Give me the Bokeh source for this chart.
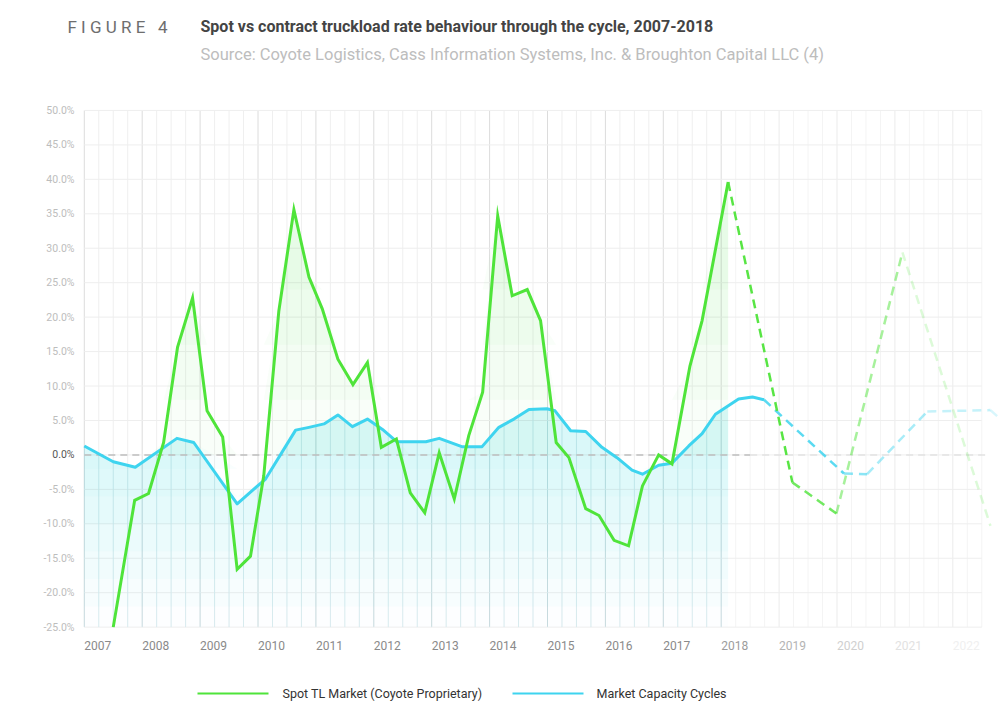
import numpy as np
from bokeh.plotting import figure
from bokeh.models import Range1d
from bokeh.core.properties import value
from bokeh.embed import file_html
from bokeh.resources import INLINE

# ---------------- data ----------------
spot_t = [2007.50, 2007.87, 2008.11, 2008.37, 2008.61, 2008.87, 2009.12, 2009.39, 2009.64, 2009.87,
          2010.10, 2010.36, 2010.62, 2010.88, 2011.11, 2011.38, 2011.64, 2011.89, 2012.13, 2012.39,
          2012.63, 2012.88, 2013.13, 2013.39, 2013.64, 2013.88, 2014.14, 2014.39, 2014.65, 2014.88,
          2015.15, 2015.37, 2015.66, 2015.89, 2016.15, 2016.40, 2016.64, 2016.92, 2017.15, 2017.46,
          2017.67, 2018.12]
spot_v = [-25.0, -6.6, -5.6, 1.8, 15.6, 22.8, 6.4, 2.6, -16.6, -14.7,
          -3.0, 20.9, 35.6, 25.8, 21.2, 13.9, 10.2, 13.4, 1.1, 2.3,
          -5.5, -8.4, 0.3, -6.4, 2.8, 9.1, 34.7, 23.1, 24.0, 19.5,
          1.8, -0.4, -7.8, -8.8, -12.4, -13.2, -4.5, 0.0, -1.3, 12.9,
          19.5, 39.6]

spot_proj_t = [2018.12, 2019.23, 2019.99, 2021.13, 2022.65]
spot_proj_v = [39.6, -4.0, -8.5, 29.4, -10.3]

cap_t = [2007.00, 2007.50, 2007.88, 2008.60, 2008.89, 2009.64, 2010.13, 2010.65, 2010.88, 2011.14,
         2011.38, 2011.63, 2011.89, 2012.15, 2012.40, 2012.90, 2013.13, 2013.52, 2013.87, 2014.16,
         2014.42, 2014.68, 2014.99, 2015.13, 2015.40, 2015.66, 2015.94, 2016.20, 2016.46, 2016.64,
         2016.92, 2017.15, 2017.44, 2017.67, 2017.90, 2018.30, 2018.54, 2018.74]
cap_v = [1.3, -1.0, -1.8, 2.4, 1.8, -7.1, -3.5, 3.6, 4.0, 4.5,
         5.8, 4.1, 5.2, 3.7, 1.9, 1.9, 2.4, 1.2, 1.2, 4.0,
         5.2, 6.6, 6.7, 6.4, 3.5, 3.4, 1.1, -0.4, -2.2, -2.8,
         -1.5, -1.2, 1.3, 3.1, 5.9, 8.1, 8.4, 8.0]

cap_proj_t = [2018.74, 2020.12, 2020.52, 2021.56, 2022.65, 2022.85]
cap_proj_v = [8.0, -2.7, -2.8, 6.3, 6.5, 5.0]

y_ticks = [50, 45, 40, 35, 30, 25, 20, 15, 10, 5, 0, -5, -10, -15, -20, -25]
y_tick_labels = ["%.1f%%" % v for v in y_ticks]
years = list(range(2007, 2023))
year_labels = [str(y) for y in years]
year_label_colors = ["#8a8a8a"] * 11 + ["#9c9c9c", "#b4b4b4", "#cfcfcf", "#e2e2e2", "#f0f0f0"]

series_names = ["Spot TL Market (Coyote Proprietary)", "Market Capacity Cycles"]
NB = "\u00a0"
title_label = NB.join(list("FIGURE")) + NB * 3 + "4"
title_text = "Spot vs contract truckload rate behaviour through the cycle, 2007-2018"
subtitle_text = "Source: Coyote Logistics, Cass Information Systems, Inc. & Broughton Capital LLC (4)"

GREEN = "#4fe43a"
BLUE = "#3ed4ef"
FILL_END = 2018.12
GRID_END = 2022.5

# ---------------- layout mapping (page px -> data) ----------------
W, H = 1000, 718
OFF = 0
X0_PX, PX_PER_YEAR = 83.8, 57.9
Y0_PX, PX_PER_PCT = 454.4, 6.889
x_start = 2007 - (X0_PX - OFF) / PX_PER_YEAR
x_end = x_start + W / PX_PER_YEAR
y_top = (Y0_PX - OFF) / PX_PER_PCT
y_bottom = y_top - H / PX_PER_PCT


def px_x(px):
    return 2007 + (px - X0_PX) / PX_PER_YEAR


def px_y(py):
    return (Y0_PX - py) / PX_PER_PCT


p = figure(width=W, height=H, output_backend="svg", toolbar_location=None,
           x_range=Range1d(x_start, x_end), y_range=Range1d(y_bottom, y_top),
           x_axis_location=None, y_axis_location=None, min_border=0,
           outline_line_color=None, background_fill_color="white",
           border_fill_color="white")
p.xgrid.visible = False
p.ygrid.visible = False

FONT = value("Roboto")

# ---------------- grid ----------------
qx = np.arange(2007, GRID_END + 0.001, 0.25)
is_year = np.isclose(qx % 1, 0)
past = qx <= 2018.01
qcol = np.where(is_year, np.where(past, "#dcdcdc", "#ebebeb"),
                np.where(past, "#efefef", "#f4f4f4"))
p.segment(x0=qx, y0=[-25] * len(qx), x1=qx, y1=[50] * len(qx),
          line_color=list(qcol), line_width=1)
p.segment(x0=[2007] * len(y_ticks), y0=y_ticks, x1=[GRID_END] * len(y_ticks), y1=y_ticks,
          line_color="#eeeeee", line_width=1)

# ---------------- fills ----------------
ct = np.array(cap_t)
cv = np.array(cap_v)
mask = ct < FILL_END
fx = np.append(ct[mask], FILL_END)
fy = np.append(cv[mask], np.interp(FILL_END, ct, cv))
p.varea(x=fx, y1=-25, y2=fy, fill_color=BLUE, fill_alpha=0.012)
for L in [-22, -18, -14, -10, -6, -2]:
    p.varea(x=fx, y1=L, y2=np.maximum(fy, L), fill_color=BLUE, fill_alpha=0.032)

# cyan tint of the vertical grid lines inside the capacity fill
gmask = qx <= FILL_END
gx = qx[gmask]
p.segment(x0=gx, y0=[-25] * len(gx), x1=gx, y1=np.interp(gx, fx, fy),
          line_color=BLUE, line_alpha=0.12, line_width=1)

st = np.array(spot_t)
sv = np.array(spot_v)
gpos = np.maximum(sv, 0)
p.varea(x=st, y1=0, y2=gpos, fill_color=GREEN, fill_alpha=0.03)
for L in [8, 16, 24]:
    p.varea(x=st, y1=L, y2=np.maximum(sv, L), fill_color=GREEN, fill_alpha=0.03)

# ---------------- zero line ----------------
p.line(x=[2007, 2018.5], y=[0, 0], line_color="#bdbdbd", line_width=1.5, line_dash="7 5")
p.line(x=[2018.5, 2022.6], y=[0, 0], line_color="#e2e2e2", line_width=1.5, line_dash="7 5")

# ---------------- series ----------------
p.line(x=cap_t, y=cap_v, line_color=BLUE, line_width=3, line_join="round")
p.line(x=spot_t, y=spot_v, line_color=GREEN, line_width=3, line_join="miter")

cap_alpha = [0.85, 0.6, 0.45, 0.3, 0.2]
for i in range(len(cap_proj_t) - 1):
    p.line(x=cap_proj_t[i:i + 2], y=cap_proj_v[i:i + 2], line_color=BLUE,
           line_width=2.5, line_dash="9 6", line_alpha=cap_alpha[i])
spot_alpha = [0.95, 0.8, 0.5, 0.2]
for i in range(len(spot_proj_t) - 1):
    p.line(x=spot_proj_t[i:i + 2], y=spot_proj_v[i:i + 2], line_color=GREEN,
           line_width=2.5, line_dash="9 6", line_alpha=spot_alpha[i])

# ---------------- tick labels ----------------
ycols = ["#555555" if v == 0 else "#bdbdbd" for v in y_ticks]
p.text(x=[px_x(74)] * len(y_ticks), y=y_ticks, text=y_tick_labels, text_color=ycols,
       text_font=FONT, text_font_size="10.5px", text_align="right", text_baseline="middle")
p.text(x=years, y=[px_y(645)] * len(years), text=year_labels,
       text_color=year_label_colors, text_font=FONT, text_font_size="12px",
       text_align="left", text_baseline="middle")

# ---------------- titles ----------------
p.text(x=[px_x(67)], y=[px_y(26)], text=[title_label], text_color="#6e6e6e",
       text_font=FONT, text_font_size="17px", text_align="left", text_baseline="middle")
p.text(x=[px_x(200)], y=[px_y(26)], text=[title_text], text_color="#444444",
       text_font=FONT, text_font_size="16px", text_font_style="bold",
       text_align="left", text_baseline="middle")
p.text(x=[px_x(200)], y=[px_y(54)], text=[subtitle_text], text_color="#bdbdbd",
       text_font=FONT, text_font_size="16.5px", text_align="left", text_baseline="middle")

# ---------------- legend ----------------
ly = px_y(693)
p.line(x=[px_x(197), px_x(268)], y=[ly, ly], line_color=GREEN, line_width=2)
p.line(x=[px_x(512), px_x(583)], y=[ly, ly], line_color=BLUE, line_width=2)
p.text(x=[px_x(282), px_x(596)], y=[ly, ly], text=series_names, text_color="#333333",
       text_font=FONT, text_font_size="12.5px", text_align="left", text_baseline="middle")

open("out.html", "w").write(file_html(p, INLINE))
